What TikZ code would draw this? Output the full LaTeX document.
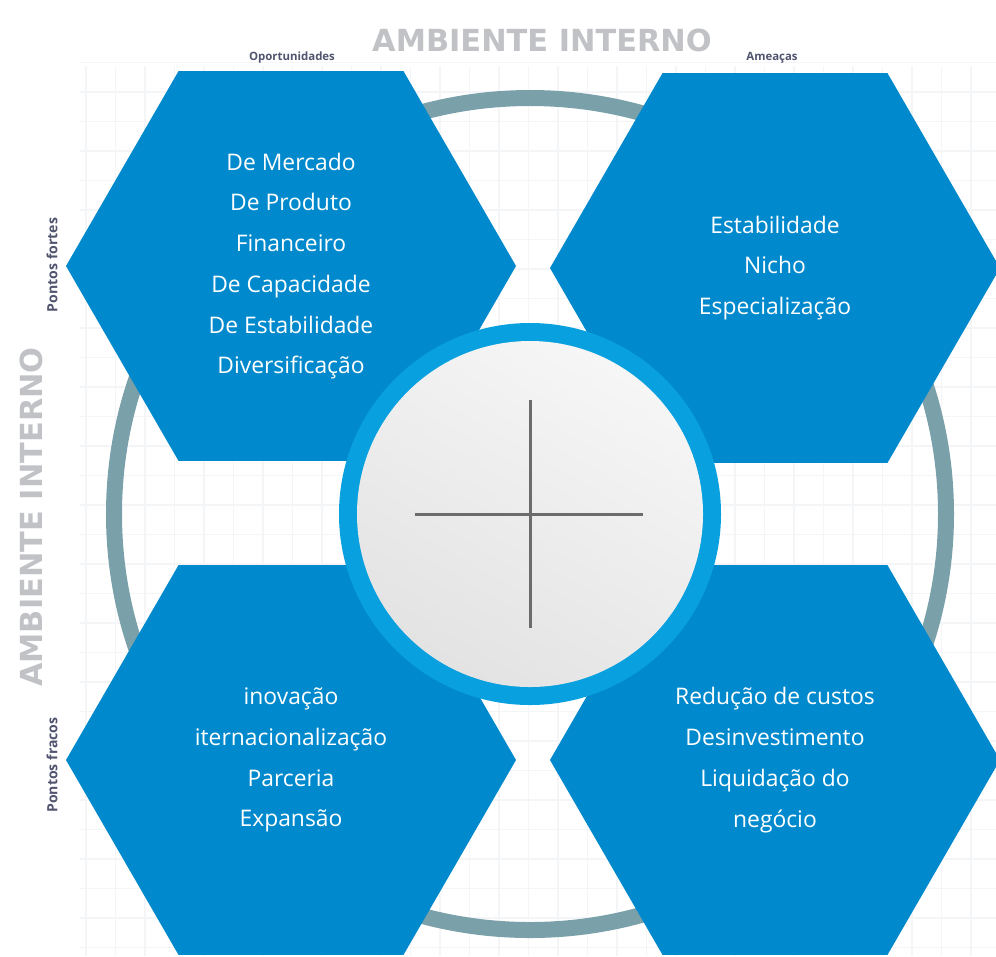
\documentclass[tikz,border=0pt]{standalone}
\usepackage{fontspec}
\setmainfont{Open Sans}
\newfontfamily\titlefont{DejaVu Sans}
\usepackage{xcolor}
\definecolor{hexblue}{RGB}{0,137,204}
\definecolor{hubblue}{RGB}{8,160,222}
\definecolor{ringgray}{RGB}{122,160,170}
\definecolor{titlegray}{RGB}{192,194,198}
\definecolor{gridgray}{RGB}{243,245,247}
\definecolor{tagdark}{RGB}{80,84,110}
\usepackage{tikz}
\usetikzlibrary{shapes.geometric}
\newcommand{\sizehex}{90mm}
\newcommand{\sizehub}{76.4mm}
\newcommand{\sizedisc}{69.2mm}
\newcommand{\gridstep}{29.5}
\tikzset{
    hexa/.style={regular polygon, regular polygon sides=6,
        fill=hexblue, minimum size=\sizehex, inner sep=0pt,
        text=white, align=center, font=\fontsize{13}{23.2}\selectfont},
    hub/.style={circle, fill=hubblue, minimum size=\sizehub, inner sep=0pt},
    disc/.style={circle, minimum size=\sizedisc, inner sep=0pt,
        shading=axis, top color=gray!7, bottom color=gray!22, shading angle=-30},
    bigring/.style={draw=ringgray, line width=3.2mm},
    gridline/.style={draw=gridgray, line width=0.25mm},
    crossline/.style={draw=gray!85!black, line width=0.6mm},
    bigtitle/.style={text=titlegray, font=\titlefont\bfseries\fontsize{17.3}{19}\selectfont},
    tag/.style={text=tagdark, font=\bfseries\fontsize{6.5}{7}\selectfont, inner sep=0pt},
    sidetag/.style={tag, rotate=90, font=\bfseries\fontsize{8}{9}\selectfont}
}

\begin{document}
\begin{tikzpicture}[x=0.2mm, y=-0.2mm]
    \useasboundingbox (0,0) rectangle (996,956);

    % background grid
    \foreach \gx in {0,...,30}
        \draw[gridline] (86+\gx*\gridstep,66) -- (86+\gx*\gridstep,956);
    \foreach \gy in {0,...,30}
        \draw[gridline] (80,62.5+\gy*\gridstep) -- (996,62.5+\gy*\gridstep);

    % ring behind the four blocks
    \coordinate (mid) at (530,514);
    \draw[bigring] (mid) circle (416);

    % the four blocks
    \node[hexa] (fortes-op) at (291,266) {De Mercado\\De Produto\\Financeiro\\De Capacidade\\De Estabilidade\\Diversificação};
    \node[hexa] (fortes-am) at (775,268) {Estabilidade\\Nicho\\Especialização};
    \node[hexa] (fracos-op) at (291,760) {inovação\\iternacionalização\\Parceria\\Expansão};
    \node[hexa] (fracos-am) at (775,760) {Redução de custos\\Desinvestimento\\Liquidação do\\negócio};

    % central hub with the cross
    \node[hub] (hub) at (mid) {};
    \node[disc] (hub-disc) at (mid) {};
    \draw[crossline] (hub.center) +(0,-114) -- +(0,114);
    \draw[crossline] (hub.center) +(-115,0) -- +(113,0);

    % titles and axis tags
    \node[bigtitle] (title-top) at (542,40) {AMBIENTE INTERNO};
    \node[bigtitle, rotate=90] (title-side) at (31,517) {AMBIENTE INTERNO};
    \node[tag] (tag-op) at (292,58) {Oportunidades};
    \node[tag] (tag-am) at (772,58) {Ameaças};
    \node[sidetag] (tag-fortes) at (52,265) {Pontos fortes};
    \node[sidetag] (tag-fracos) at (52,765) {Pontos fracos};
\end{tikzpicture}
\end{document}
